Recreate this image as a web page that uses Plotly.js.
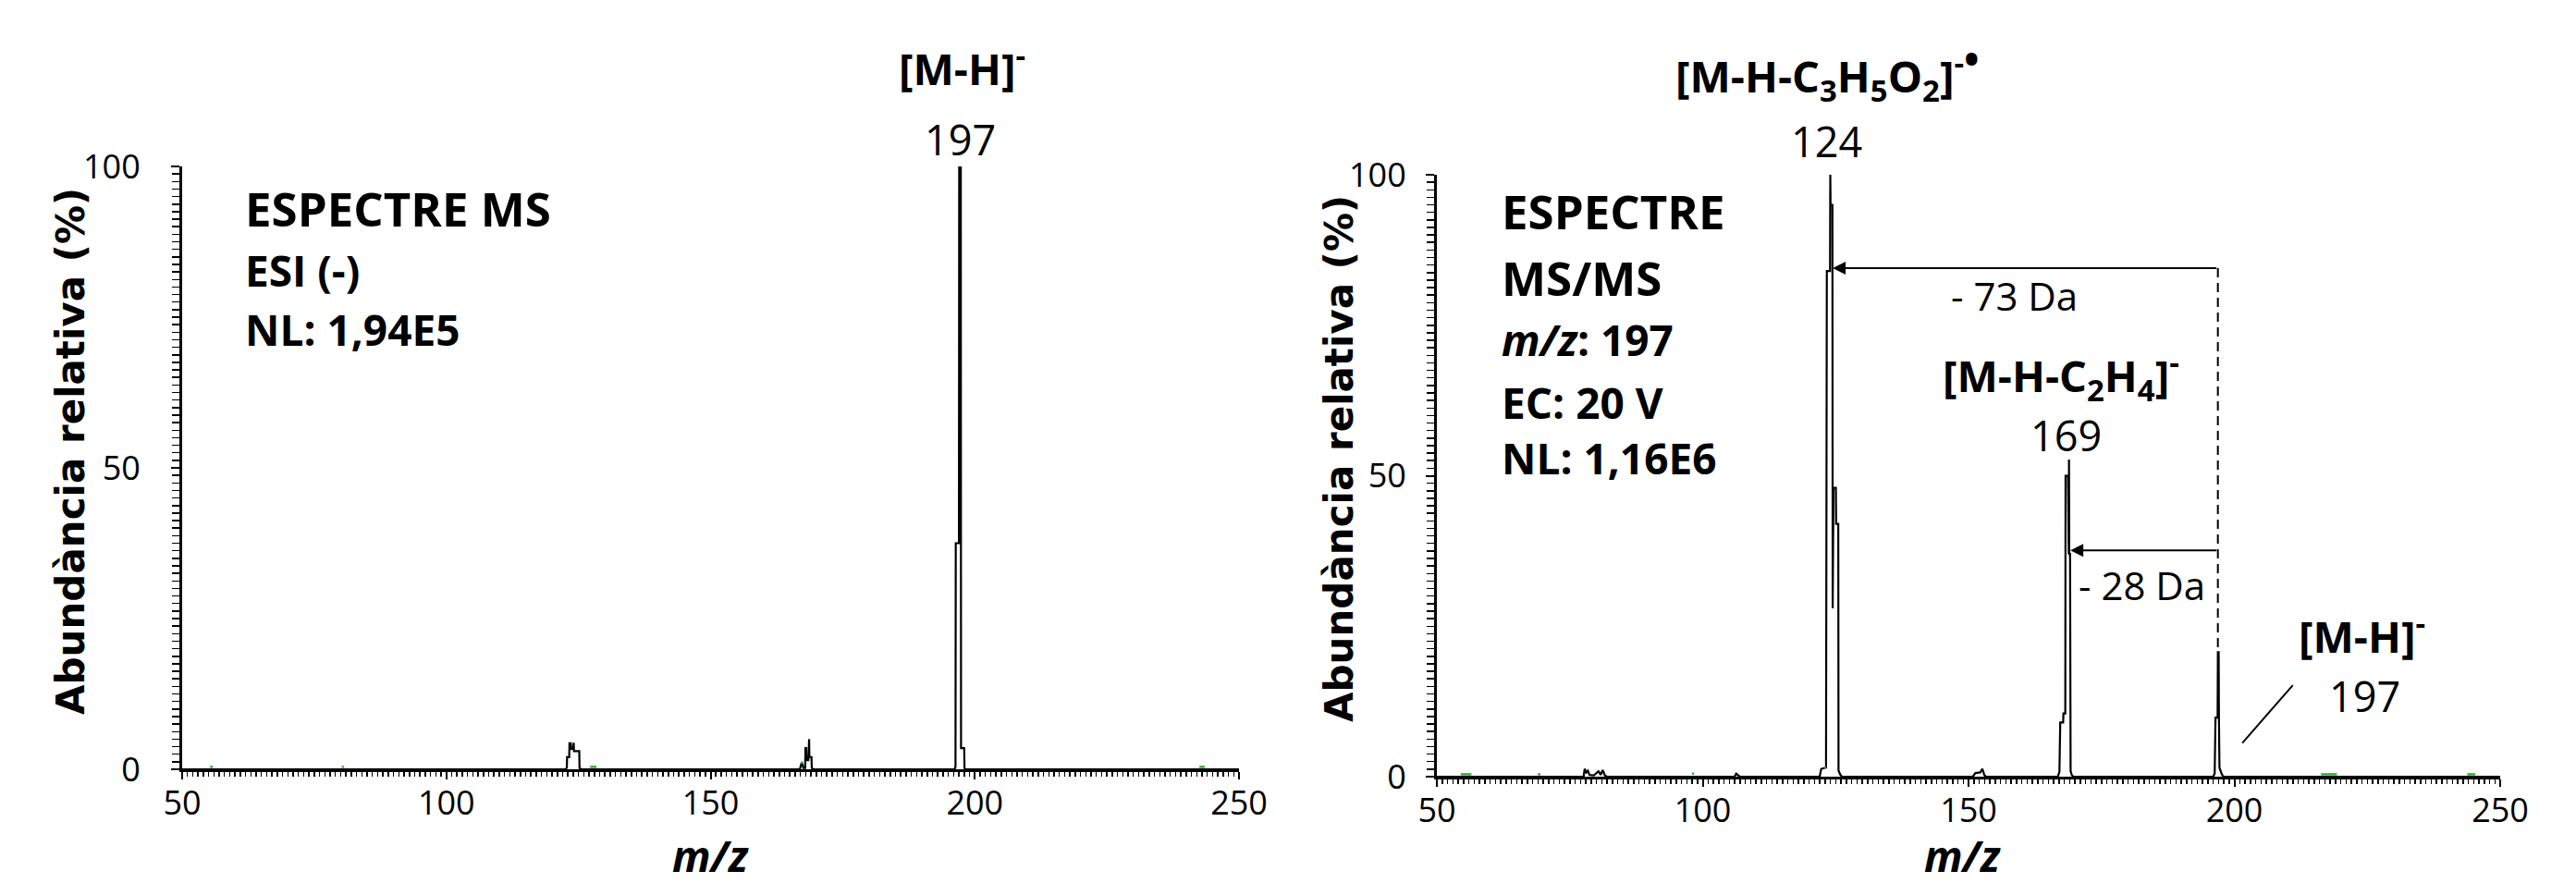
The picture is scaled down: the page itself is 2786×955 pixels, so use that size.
<!DOCTYPE html>
<html>
<head>
<meta charset="utf-8">
<script src="https://cdn.plot.ly/plotly-3.0.1.min.js"></script>
<style>html,body{margin:0;padding:0;background:#fff;}#chart{width:2786px;height:955px;}</style>
</head>
<body>
<div id="chart"></div>
<script>
// ---------- DATA ----------
// MS spectrum (ESI-), profile: m/z and relative abundance (%)
const msMz  = [50, 122.6, 122.8, 122.85, 123.25, 123.3, 123.55, 123.6, 123.95, 124.0, 124.1, 124.15, 125.15, 125.2, 125.5,
               166.9, 167.2, 167.4, 167.55, 167.9, 167.95, 168.1, 168.15, 168.5, 168.55, 168.65, 168.7, 169.1, 169.15, 169.5,
               196.2, 196.35, 196.4, 197.0, 197.05, 197.2, 197.25, 197.35, 197.4, 198.0, 198.05, 198.3, 250];
const msInt = [0, 0, 0.3, 2.0, 2.0, 4.3, 4.3, 3.4, 3.4, 4.4, 4.4, 3.0, 3.0, 0.2, 0,
               0, 1.0, 0.8, 0.2, 0.2, 3.5, 3.5, 1.5, 1.5, 5.0, 5.0, 2.0, 2.0, 0.2, 0,
               0, 0.5, 37.5, 37.5, 100, 100, 37.5, 100, 3.5, 3.5, 0.2, 0, 0];
// small green traces near the baseline (MS)
const msGreenMz  = [55.3, 55.8, null, 80.2, 80.6, null, 127.2, 128.4, null, 167.1, 167.5, null, 242.5, 243.5];
const msGreenInt = [0.4, 0.4, null, 0.4, 0.4, null, 0.4, 0.4, null, 1.2, 1.0, null, 0.4, 0.4];

// MS/MS spectrum of m/z 197 (EC 20 V)
const msmsMz  = [50, 77.6, 77.8, 78.1, 78.4, 78.7, 79.5, 80.4, 80.8, 81.2, 81.6, 82.0,
                 106.0, 106.3, 106.7, 107.0,
                 122.0, 122.3, 123.2, 123.35, 123.95, 124.0, 124.05, 124.4, 124.45, 124.6, 125.05, 125.1, 125.5, 125.55, 125.9, 126.2,
                 150.8, 151.3, 152.2, 152.6, 153.0, 153.3,
                 166.8, 167.1, 167.25, 167.8, 167.85, 168.2, 168.25, 168.7, 168.75, 168.85, 168.9, 168.95, 169.1, 169.2, 169.4, 169.7,
                 196.0, 196.3, 196.45, 196.85, 196.9, 197.05, 197.1, 197.2, 197.6, 197.9, 250];
const msmsInt = [0, 0, 1.3, 0.7, 1.0, 0.3, 0.2, 0.9, 0.3, 1.1, 0.2, 0,
                 0, 0.5, 0.2, 0,
                 0, 1.3, 1.5, 84, 84, 100, 95, 95, 28, 48, 48, 42, 42, 1, 0.3, 0,
                 0, 0.6, 0.7, 1.3, 0.2, 0,
                 0, 0.8, 9, 9, 10.5, 10.5, 50, 50, 37, 37, 52.7, 37, 37, 1, 0.3, 0,
                 0, 0.5, 9.8, 9.8, 20.7, 20.7, 9.8, 1.5, 0.5, 0, 0];
const msmsGreenMz  = [54.5, 56.5, null, 69.0, 69.5, null, 98.0, 98.4, null, 122.9, 123.2, null, 216.3, 219.3, null, 243.8, 245.3];
const msmsGreenInt = [0.4, 0.4, null, 0.4, 0.4, null, 0.5, 0.5, null, 1.5, 1.5, null, 0.4, 0.4, null, 0.4, 0.4];

// ions / neutral losses
const precursorMz = 197;
const fragmentMz = [124, 169];
const lossLabels = ['- 73 Da', '- 28 Da'];

// axis ticks
const xTickVals = [50, 100, 150, 200, 250];
const xTickText = ['50', '100', '150', '200', '250'];
const yTickVals = [0, 50, 100];
const yTickText = ['0', '50', '100'];

// ---------- STYLE ----------
const W = 2786, H = 955;
const tickFont = {family: 'Open Sans', size: 36, color: '#000'};
function xAx(domain, anchor) {
  return {domain, anchor, range: [50, 250], showgrid: false, zeroline: false,
    showline: true, linecolor: '#000', linewidth: 3,
    ticks: 'outside', ticklen: 8, tickwidth: 2, tickcolor: '#000',
    tickmode: 'array', tickvals: xTickVals, ticktext: xTickText, tickfont: tickFont,
    ticklabelstandoff: -5,
    minor: {ticks: 'outside', ticklen: 5, tickwidth: 1.5, tickcolor: '#000', tickmode: 'linear', tick0: 50, dtick: 1, showgrid: false},
    fixedrange: true};
}
function yAx(domain, anchor, standoff) {
  return {domain, anchor, range: [0, 100], showgrid: false, zeroline: false,
    showline: true, linecolor: '#000', linewidth: 3,
    ticks: 'outside', ticklen: 9, tickwidth: 2, tickcolor: '#000',
    tickmode: 'array', tickvals: yTickVals, ticktext: yTickText, tickfont: tickFont,
    ticklabelstandoff: standoff,
    minor: {ticks: 'outside', ticklen: 8, tickwidth: 1.5, tickcolor: '#000', tickmode: 'linear', tick0: 0, dtick: 1.25, showgrid: false},
    fixedrange: true};
}

const traces = [
  {x: msMz, y: msInt, xaxis: 'x', yaxis: 'y', type: 'scatter', mode: 'lines', line: {color: '#000', width: 2.2}, cliponaxis: false, hoverinfo: 'skip'},
  {x: msGreenMz, y: msGreenInt, xaxis: 'x', yaxis: 'y', type: 'scatter', mode: 'lines', line: {color: '#2fae3a', width: 2.5}, hoverinfo: 'skip'},
  {x: msmsMz, y: msmsInt, xaxis: 'x2', yaxis: 'y2', type: 'scatter', mode: 'lines', line: {color: '#000', width: 2.2}, cliponaxis: false, hoverinfo: 'skip'},
  {x: msmsGreenMz, y: msmsGreenInt, xaxis: 'x2', yaxis: 'y2', type: 'scatter', mode: 'lines', line: {color: '#2fae3a', width: 2.5}, hoverinfo: 'skip'}
];

const bold = (size) => ({family: 'Open Sans', size, color: '#000', weight: 'bold'});
const reg = (size) => ({family: 'Open Sans', size, color: '#000'});
function txt(xref, yref, x, y, text, font, xanchor) {
  return {xref, yref, x, y, text, font, showarrow: false, xanchor: xanchor || 'center', yanchor: 'middle'};
}
// pixel -> paper helpers (for texts that sit above the plotting areas)
const px = (v) => v / W;
const py = (v) => (H - v) / H;

const annotations = [
  // left: MS
  txt('paper', 'paper', px(1040), py(71), '[M-H]<sup>-</sup>', bold(47)),
  txt('paper', 'paper', px(1038), py(150), String(precursorMz), reg(45)),
  txt('x', 'y', 61.6, 93.1, 'ESPECTRE MS', bold(51), 'left'),
  txt('x', 'y', 61.6, 82.8, 'ESI (-)', bold(46), 'left'),
  txt('x', 'y', 61.6, 73.0, 'NL: 1,94E5', bold(46), 'left'),
  // right: MS/MS
  txt('paper', 'paper', px(1976), py(76), '[M-H-C<sub>3</sub>H<sub>5</sub>O<sub>2</sub>]<sup>-<span style="font-size:44px">•</span></sup>', bold(47)),
  txt('paper', 'paper', px(1975), py(152), String(fragmentMz[0]), reg(45)),
  txt('x2', 'y2', 61.8, 94.0, 'ESPECTRE', bold(51), 'left'),
  txt('x2', 'y2', 61.8, 83.0, 'MS/MS', bold(51), 'left'),
  txt('x2', 'y2', 61.8, 72.6, '<i>m/z</i>: 197', bold(46), 'left'),
  txt('x2', 'y2', 61.8, 62.2, 'EC: 20 V', bold(46), 'left'),
  txt('x2', 'y2', 61.8, 53.0, 'NL: 1,16E6', bold(46), 'left'),
  txt('x2', 'y2', 158.6, 79.9, lossLabels[0], reg(42)),
  txt('x2', 'y2', 167.4, 66.6, '[M-H-C<sub>2</sub>H<sub>4</sub>]<sup>-</sup>', bold(47)),
  txt('x2', 'y2', fragmentMz[1] - 0.6, 56.8, String(fragmentMz[1]), reg(45)),
  txt('x2', 'y2', 182.6, 31.8, lossLabels[1], reg(42)),
  txt('x2', 'y2', 224.0, 23.8, '[M-H]<sup>-</sup>', bold(47)),
  txt('x2', 'y2', 224.6, 13.5, String(precursorMz), reg(45)),
  // neutral-loss arrows
  {xref: 'x2', yref: 'y2', axref: 'x2', ayref: 'y2', x: fragmentMz[0] + 0.45, y: 84.5, ax: precursorMz - 0.1, ay: 84.5,
   text: '', showarrow: true, arrowhead: 2, arrowsize: 1.4, arrowwidth: 2, arrowcolor: '#000', standoff: 0, startstandoff: 0},
  {xref: 'x2', yref: 'y2', axref: 'x2', ayref: 'y2', x: fragmentMz[1] + 0.15, y: 37.6, ax: precursorMz - 0.1, ay: 37.6,
   text: '', showarrow: true, arrowhead: 2, arrowsize: 1.4, arrowwidth: 2, arrowcolor: '#000', standoff: 0, startstandoff: 0},
  // axis titles
  {xref: 'paper', yref: 'paper', x: px(76), y: py(488), text: 'Abundància relativa (%)', textangle: -90, showarrow: false,
   xanchor: 'center', yanchor: 'middle', font: {family: 'DejaVu Sans', size: 42, color: '#000', weight: 'bold'}},
  {xref: 'paper', yref: 'paper', x: px(1448), y: py(496), text: 'Abundància relativa (%)', textangle: -90, showarrow: false,
   xanchor: 'center', yanchor: 'middle', font: {family: 'DejaVu Sans', size: 42, color: '#000', weight: 'bold'}},
  {xref: 'paper', yref: 'paper', x: px(768), y: py(925), text: '<i>m/z</i>', showarrow: false,
   xanchor: 'center', yanchor: 'middle', font: bold(46)},
  {xref: 'paper', yref: 'paper', x: px(2122), y: py(925), text: '<i>m/z</i>', showarrow: false,
   xanchor: 'center', yanchor: 'middle', font: bold(46)}
];

const shapes = [
  {type: 'line', xref: 'x2', yref: 'y2', x0: precursorMz - 0.1, x1: precursorMz - 0.1, y0: 84.5, y1: 20.7,
   line: {color: '#000', width: 2, dash: '10px,6px'}},
  {type: 'line', xref: 'x2', yref: 'y2', x0: 201.5, y0: 5.6, x1: 211.0, y1: 15.2, line: {color: '#000', width: 2}}
];

const layout = {
  width: W, height: H,
  margin: {l: 0, r: 0, t: 0, b: 0},
  paper_bgcolor: '#fff', plot_bgcolor: '#fff',
  showlegend: false,
  xaxis: xAx([197 / W, 1340 / W], 'y'),
  yaxis: yAx([(H - 832) / H, (H - 180) / H], 'x', 26),
  xaxis2: xAx([1554 / W, 2704 / W], 'y2'),
  yaxis2: yAx([(H - 840) / H, (H - 189) / H], 'x2', 14),
  annotations, shapes
};

Plotly.newPlot('chart', traces, layout, {staticPlot: true, displayModeBar: false});
</script>
</body>
</html>
